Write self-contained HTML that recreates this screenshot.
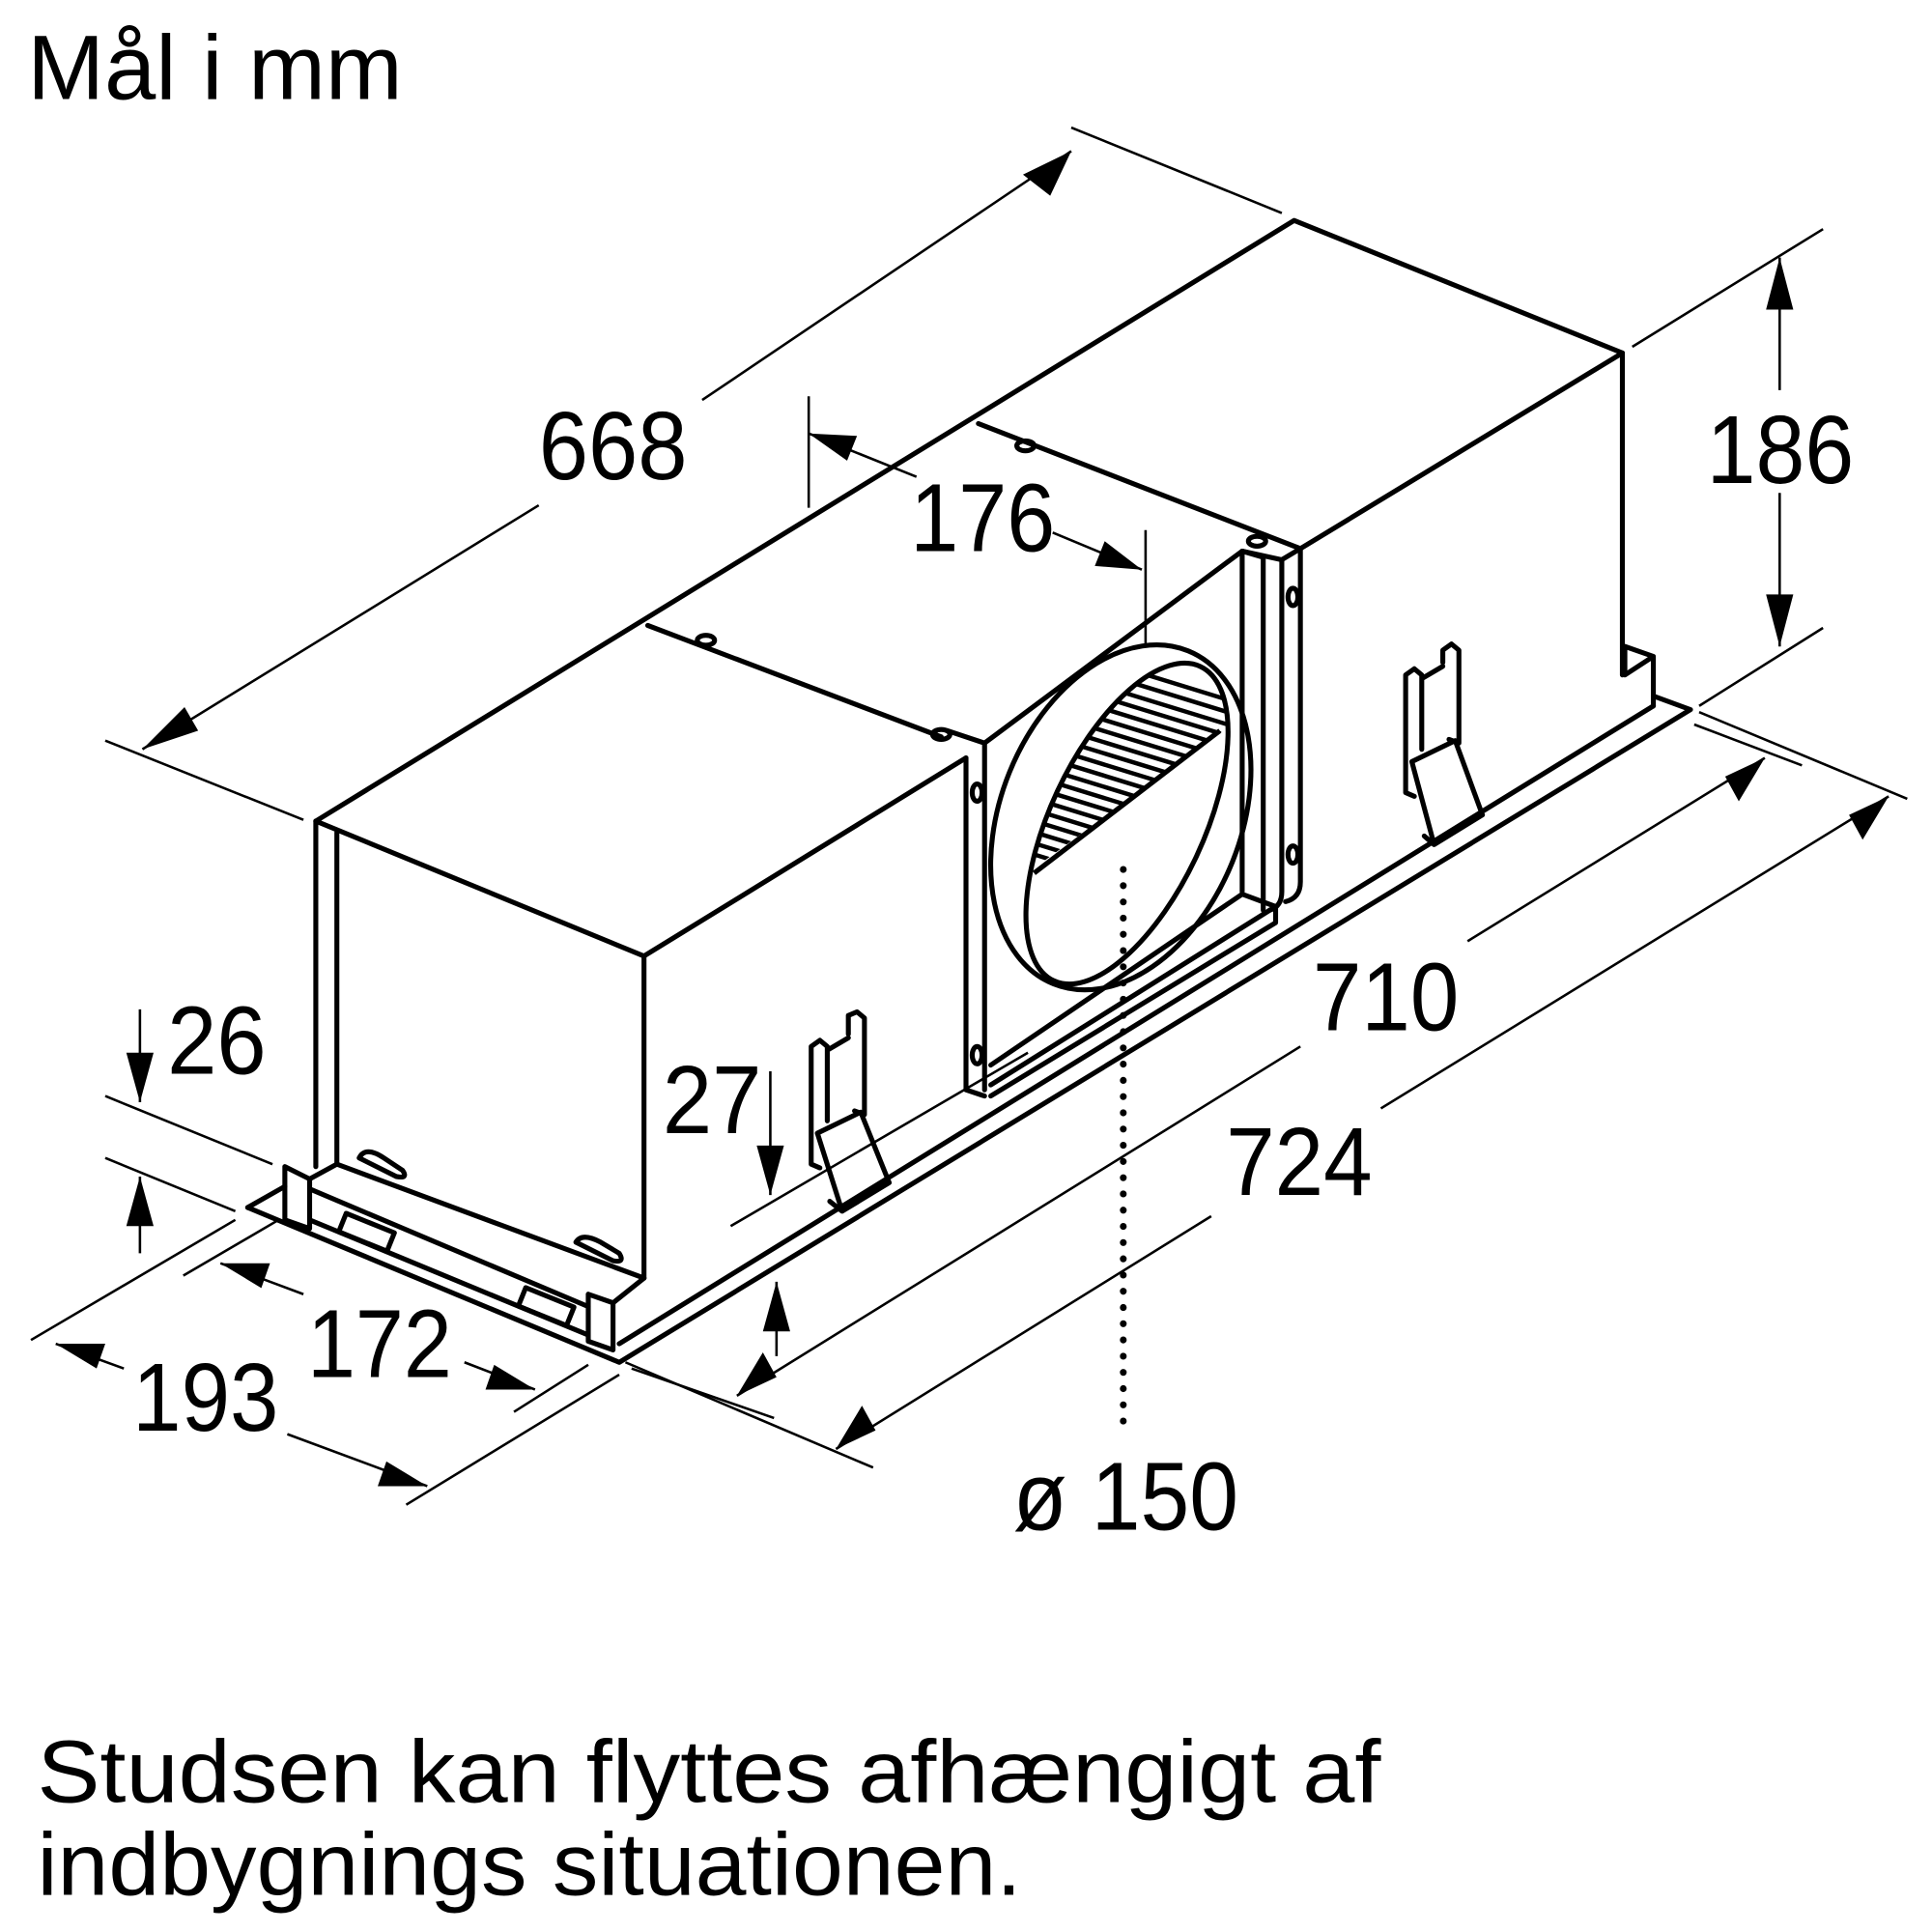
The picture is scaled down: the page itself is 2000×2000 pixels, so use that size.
<!DOCTYPE html>
<html><head><meta charset="utf-8"><style>
html,body{margin:0;padding:0;background:#fff;}
svg{display:block;}
text{font-family:"Liberation Sans",Arial,sans-serif;fill:#000;}
</style></head><body>
<svg width="2000" height="2000" viewBox="0 0 1560 1560" xmlns="http://www.w3.org/2000/svg">
<defs>
<clipPath id="hc"><ellipse cx="910" cy="665" rx="62" ry="140" transform="rotate(25 910 665)"/></clipPath>
</defs>
<text x="22" y="80" font-size="74" textLength="303" lengthAdjust="spacingAndGlyphs">Mål i mm</text>
<text x="30" y="1455" font-size="72" textLength="1085" lengthAdjust="spacingAndGlyphs">Studsen kan flyttes afhængigt af</text>
<text x="30" y="1530" font-size="72" textLength="795" lengthAdjust="spacingAndGlyphs">indbygnings situationen.</text>

<g fill="none" stroke="#000" stroke-width="4" stroke-linejoin="round" stroke-linecap="round">
<path d="M255 663 L1045 178 L1310 285 L1310 545"/>
<path d="M1050 443 L1310 285"/>
<path d="M790 342 L1050 443"/>
<path d="M523 505 L760 595"/>
<path d="M255 663 L520 772 L780 612"/>
<path d="M520 772 L520 1032"/>
<path d="M255 663 L255 942"/>
<path d="M272 672 L272 940"/>
<path d="M780 612 L780 880 L795 885"/>
<path d="M765 590 L795 600 L795 880"/>
<path d="M795 600 L1003 445 L1003 720"/>
<path d="M1003 445 L1020 450 L1020 735"/>
<path d="M1035 452 L1035 720 Q1035 732 1025 735"/>
<path d="M1050 443 L1050 712 Q1050 725 1038 728"/>
<path d="M1003 445 L1035 452 L1050 443"/>
<path d="M800 860 L1003 722 L1030 732 L800 876"/>
<path d="M800 885 L1030 745 L1030 733"/>
<ellipse cx="905" cy="660" rx="97" ry="145" transform="rotate(22 905 660)"/>
<path d="M200 975 L500 1100 L1365 573 L1335 562"/>
<path d="M200 975 L230 958"/>
<path d="M500 1085 L1335 570"/>
<path d="M1335 570 L1335 530 L1312 522 L1312 545 L1335 530"/>
<path d="M230 942 L230 985 L250 992 L250 952 L230 942"/>
<path d="M250 952 L272 940"/>
<path d="M250 960 L475 1055"/>
<path d="M250 985 L475 1078"/>
<path d="M475 1045 L475 1083 L495 1090 L495 1052 L475 1045"/>
<path d="M495 1052 L520 1032"/>
<path d="M272 940 L520 1032"/>
<path d="M290 935 Q295 925 310 935 L325 945 Q330 952 320 950 Z"/>
<path d="M465 1003 Q470 995 485 1003 L500 1012 Q505 1020 495 1018 Z"/>
<rect x="275" y="987" width="42" height="16" transform="rotate(22 296 995)"/>
<rect x="420" y="1047" width="42" height="16" transform="rotate(22 441 1055)"/>
<ellipse cx="828" cy="360" rx="7" ry="4"/>
<ellipse cx="1015" cy="437" rx="7" ry="4"/>
<ellipse cx="570" cy="517" rx="7" ry="4"/>
<ellipse cx="760" cy="593" rx="7" ry="4"/>
<ellipse cx="789" cy="640" rx="4" ry="7"/>
<ellipse cx="789" cy="852" rx="4" ry="7"/>
<ellipse cx="1044" cy="482" rx="4" ry="7"/>
<ellipse cx="1044" cy="690" rx="4" ry="7"/>
<path d="M655 845 L655 940 L662 943 M655 845 L662 840 L668 845 L668 905 M685 835 L685 820 L692 817 L698 822 L698 900 L690 897 M668 848 L685 838"/>
<path d="M660 915 L695 898 L718 955 L680 978 L660 915 M680 978 L670 970"/>
<path d="M1135 545 L1135 640 L1142 643 M1135 545 L1142 540 L1148 545 L1148 605 M1165 535 L1165 525 L1172 520 L1178 525 L1178 600 L1170 597 M1148 548 L1165 538"/>
<path d="M1140 615 L1175 598 L1197 658 L1158 682 L1140 615 M1158 682 L1150 675"/>
</g>

<g clip-path="url(#hc)" stroke="#000" stroke-width="3.5">
<path d="M780 500 L1040 580 M780 510 L1040 590 M780 520 L1040 600 M780 529 L1040 609 M780 538 L1040 618 M780 547 L1040 627 M780 556 L1040 636 M780 565 L1040 645 M780 574 L1040 654 M780 583 L1040 663 M780 592 L1040 672 M780 601 L1040 681 M780 610 L1040 690 M780 619 L1040 699 M780 628 L1040 708 M780 637 L1040 717 M780 646 L1040 726 M780 655 L1040 735 M780 664 L1040 744 M780 673 L1040 753"/>
</g>
<g clip-path="url(#hc)"><path d="M820 712 L990 588 L1050 900 L800 900 Z" fill="#fff"/></g>
<path d="M835 705 L985 590" stroke="#000" stroke-width="4"/>
<ellipse cx="910" cy="665" rx="62" ry="140" transform="rotate(25 910 665)" fill="none" stroke="#000" stroke-width="4"/>

<line x1="907" y1="702" x2="907" y2="1150" stroke="#000" stroke-width="5.5" stroke-dasharray="0.1 13" stroke-linecap="round"/>

<g fill="none" stroke="#000" stroke-width="2">
<path d="M85 598 L245 662 M865 103 L1035 172"/>
<path d="M115 605 L435 408 M567 323 L865 122"/>
<path d="M653 320 L653 410 M925 428 L925 520"/>
<path d="M653 350 L740 385 M850 430 L922 460"/>
<path d="M1318 280 L1472 185 M1372 570 L1472 507"/>
<path d="M1437 208 L1437 315 M1437 398 L1437 522"/>
<path d="M113 815 L113 890 M85 885 L220 940"/>
<path d="M113 950 L113 1012 M85 935 L190 978"/>
<path d="M622 865 L622 965 M590 990 L830 850"/>
<path d="M627 1035 L627 1095"/>
<path d="M148 1030 L225 985 M178 1020 L245 1045 M375 1100 L432 1122 M415 1140 L475 1102"/>
<path d="M25 1082 L190 985 M328 1215 L500 1110 M45 1085 L100 1105 M232 1158 L345 1200"/>
<path d="M1368 585 L1455 618 M510 1105 L625 1145 M595 1127 L1050 845 M1185 760 L1425 612"/>
<path d="M1372 575 L1540 645 M505 1100 L705 1185 M675 1170 L978 982 M1115 895 L1525 643"/>
</g>
<g fill="#000">
<polygon points="115,605 149,571 160,590"/>
<polygon points="865,122 826,141 848,158"/>
<polygon points="653,350 692,352 684,372"/>
<polygon points="922,460 884,457 892,437"/>
<polygon points="1437,208 1426,250 1448,250"/>
<polygon points="1437,522 1426,480 1448,480"/>
<polygon points="113,890 102,850 124,850"/>
<polygon points="113,950 102,990 124,990"/>
<polygon points="622,965 611,925 633,925"/>
<polygon points="627,1035 616,1075 638,1075"/>
<polygon points="178,1020 218,1020 211,1040"/>
<polygon points="432,1122 392,1122 399,1102"/>
<polygon points="45,1085 85,1085 78,1105"/>
<polygon points="345,1200 305,1200 312,1180"/>
<polygon points="595,1127 616,1092 627,1112"/>
<polygon points="1425,612 1404,647 1393,627"/>
<polygon points="675,1170 696,1135 707,1155"/>
<polygon points="1525,643 1504,678 1493,658"/>
</g>
<g font-size="78">
<text x="435" y="387" textLength="120" lengthAdjust="spacingAndGlyphs">668</text>
<text x="735" y="445" textLength="117" lengthAdjust="spacingAndGlyphs">176</text>
<text x="1378" y="390" textLength="119" lengthAdjust="spacingAndGlyphs">186</text>
<text x="135" y="867" textLength="80" lengthAdjust="spacingAndGlyphs">26</text>
<text x="535" y="915" textLength="80" lengthAdjust="spacingAndGlyphs">27</text>
<text x="248" y="1112" textLength="117" lengthAdjust="spacingAndGlyphs">172</text>
<text x="107" y="1155" textLength="118" lengthAdjust="spacingAndGlyphs">193</text>
<text x="1060" y="832" textLength="118" lengthAdjust="spacingAndGlyphs">710</text>
<text x="990" y="965" textLength="118" lengthAdjust="spacingAndGlyphs">724</text>
<text x="818" y="1235" textLength="182" lengthAdjust="spacingAndGlyphs">ø 150</text>
</g>
</svg>
</body></html>
